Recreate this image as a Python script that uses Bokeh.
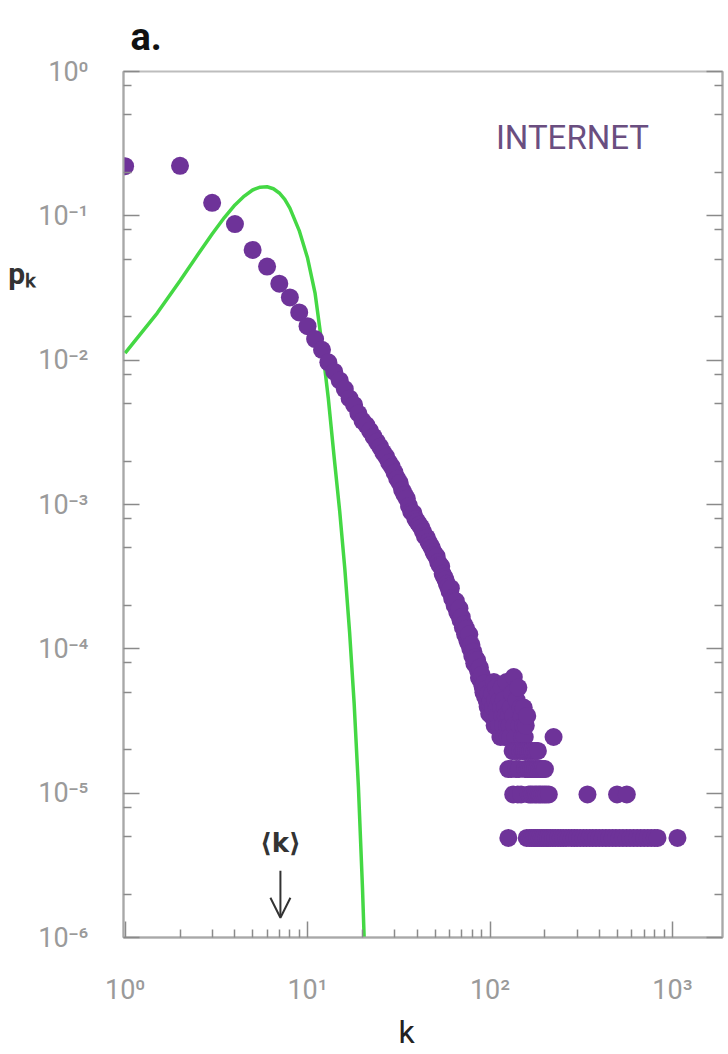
from bokeh.plotting import figure
from bokeh.models import (FixedTicker, CustomJSTickFormatter, LogAxis, Label,
                          Arrow, OpenHead, ColumnDataSource)
from bokeh.embed import file_html
from bokeh.resources import INLINE

# ---------------- data ----------------
band_k = list(range(1, 101))
band_p = [0.221, 0.222, 0.123, 0.0877, 0.058, 0.0445, 0.0339, 0.0272, 0.0214, 0.0172,
          0.0140, 0.0118, 0.00966, 0.00832, 0.00724, 0.00631, 0.00543, 0.00490, 0.00427, 0.00380,
          0.00355, 0.00324, 0.00295, 0.00272, 0.00251, 0.00229, 0.00214, 0.00195, 0.00182, 0.00166,
          0.00151, 0.00141, 0.00126, 0.00117, 0.00110, 9.77e-4, 8.91e-4, 8.71e-4, 7.94e-4, 7.59e-4,
          7.24e-4, 6.92e-4, 6.46e-4, 6.03e-4, 5.89e-4, 5.50e-4, 5.25e-4, 5.01e-4, 4.68e-4, 4.47e-4,
          4.37e-4, 3.98e-4, 3.80e-4, 3.72e-4, 3.31e-4, 3.16e-4, 3.02e-4, 2.82e-4, 2.69e-4, 2.51e-4,
          2.63e-4, 2.24e-4, 2.19e-4, 2.00e-4, 2.14e-4, 1.82e-4, 1.74e-4, 1.91e-4, 1.58e-4, 1.66e-4,
          1.41e-4, 1.48e-4, 1.26e-4, 1.38e-4, 1.15e-4, 1.10e-4, 1.26e-4, 1.00e-4, 1.07e-4, 8.91e-5,
          9.55e-5, 7.94e-5, 8.71e-5, 7.59e-5, 8.32e-5, 7.08e-5, 6.31e-5, 7.41e-5, 6.03e-5, 6.61e-5,
          5.50e-5, 5.01e-5, 5.75e-5, 4.68e-5, 5.25e-5, 4.37e-5, 3.98e-5, 4.90e-5, 3.55e-5, 4.17e-5]

# scattered tail just above 100 (5..13 nodes per degree)
blob_k = [101, 102, 103, 104, 105, 106, 107, 108, 109, 110,
          111, 112, 113, 114, 115, 116, 117, 118, 119, 120,
          121, 122, 123, 124, 125, 127, 128, 129, 130, 132,
          134, 135, 136, 138, 140, 143, 145, 147, 149, 150,
          152, 153, 155, 157, 160, 223]
blob_p = [4.41e-5, 3.43e-5, 4.90e-5, 3.92e-5, 5.88e-5, 2.94e-5, 4.41e-5, 5.39e-5, 3.92e-5, 3.43e-5,
          4.90e-5, 2.94e-5, 4.41e-5, 2.45e-5, 3.92e-5, 5.39e-5, 3.43e-5, 2.94e-5, 4.41e-5, 2.45e-5,
          3.92e-5, 3.43e-5, 5.88e-5, 2.94e-5, 2.45e-5, 3.43e-5, 2.94e-5, 2.45e-5, 3.92e-5, 4.90e-5,
          3.43e-5, 6.37e-5, 2.94e-5, 2.45e-5, 4.41e-5, 5.39e-5, 2.94e-5, 3.92e-5, 3.43e-5, 2.45e-5,
          2.94e-5, 3.92e-5, 2.45e-5, 2.94e-5, 3.43e-5, 2.45e-5]

# horizontal rows of the far tail: degrees held by 4, 3, 2 and 1 nodes
row_levels = [1.96e-5, 1.47e-5, 9.8e-6, 4.9e-6]
row4_k = [133, 137, 141, 146, 151, 154, 158, 162, 166, 170, 175, 179, 183]
row3_k = [126, 131, 139, 144, 156, 161, 164, 168, 172, 177, 181, 186, 190, 195, 200]
row2_k = [134, 142, 148, 163, 167, 171, 176, 180, 185, 189, 194, 199, 204, 210, 342, 497, 562]
row1_k = [126, 159, 165, 169, 174, 178, 182, 187, 192, 197, 203, 208, 214, 221, 228, 236,
          244, 252, 261, 270, 280, 290, 300, 312, 325, 338, 352, 366, 381, 397, 414, 432,
          450, 470, 490, 512, 535, 560, 585, 612, 640, 670, 700, 732, 765, 800, 828, 1065]

# Poisson-like reference curve (green)
green_k = [1, 1.5, 2, 2.5, 3, 3.5, 4, 4.5, 5, 5.5, 6, 6.5, 7, 7.5, 8, 9, 10, 11,
           12, 13, 14, 15, 16, 17, 18, 19, 20, 21]
green_p = [0.0112, 0.0212, 0.0355, 0.0537, 0.0749, 0.0973, 0.119, 0.137, 0.151, 0.158,
           0.159, 0.154, 0.144, 0.130, 0.113, 0.079, 0.051, 0.029, 0.0128, 0.0054,
           0.0021, 9.0e-4, 3.6e-4, 1.3e-4, 4.2e-5, 1.1e-5, 2.2e-6, 3.5e-7]

x_ticks = [1, 10, 100, 1000]
x_labels = ["10⁰", "10¹", "10²", "10³"]
x_minor = [2, 3, 4, 5, 6, 7, 8, 9, 20, 30, 40, 50, 60, 70, 80, 90,
           200, 300, 400, 500, 600, 700, 800, 900]
y_ticks = [1e-6, 1e-5, 1e-4, 1e-3, 1e-2, 1e-1, 1]
y_labels = ["10⁻⁶", "10⁻⁵", "10⁻⁴", "10⁻³", "10⁻²", "10⁻¹", "10⁰"]
y_minor = [2e-6, 5e-6, 8e-6, 2e-5, 5e-5, 8e-5, 2e-4, 5e-4, 8e-4,
           2e-3, 5e-3, 8e-3, 2e-2, 5e-2, 8e-2, 2e-1, 5e-1, 8e-1]

mean_k_pos = 7.1          # where the <k> arrow is drawn
series_name = "INTERNET"
y_title = "pₖ"
x_title = "k"

# ---------------- assemble point table ----------------
all_k = band_k + blob_k
all_p = band_p + blob_p
for lvl, ks in zip(row_levels, [row4_k, row3_k, row2_k, row1_k]):
    all_k += ks
    all_p += [lvl] * len(ks)

# ---------------- style ----------------
PURPLE = "#6e3399"
GREEN = "#44d844"
GRAY_TXT = "#9a9a9a"
FONT = "Roboto"

p = figure(width=726, height=1053, x_axis_type="log", y_axis_type="log",
           x_range=(0.98, 1880), y_range=(1e-6, 1),
           output_backend="svg", toolbar_location=None,
           min_border_left=123, min_border_right=4, min_border_top=71,
           min_border_bottom=111, title="a.")
p.background_fill_color = "white"
p.border_fill_color = "white"
p.outline_line_color = "#bdbdbd"
p.outline_line_width = 2
p.grid.visible = False

p.title.text_font = FONT
p.title.text_font_style = "bold"
p.title.text_font_size = "38px"
p.title.text_color = "#111111"
p.title.align = "left"
p.title.vertical_align = "top"
p.title.offset = 7
p.title.standoff = 22

fmt_code = """
const lt = Math.log10(tick);
for (let i = 0; i < vals.length; i++) {
  if (Math.abs(Math.log10(vals[i]) - lt) < 1e-6) return labs[i];
}
return "";
"""

xa = p.xaxis[0]
xa.ticker = FixedTicker(ticks=x_ticks, minor_ticks=x_minor)
xa.formatter = CustomJSTickFormatter(args=dict(vals=x_ticks, labs=x_labels), code=fmt_code)
ya = p.yaxis[0]
ya.ticker = FixedTicker(ticks=y_ticks, minor_ticks=y_minor)
ya.formatter = CustomJSTickFormatter(args=dict(vals=y_ticks, labs=y_labels), code=fmt_code)

ra = LogAxis(ticker=FixedTicker(ticks=y_ticks, minor_ticks=y_minor),
             major_label_text_font_size="1px", major_label_text_alpha=0,
             major_label_standoff=0)
p.add_layout(ra, "right")

for ax in (xa, ya, ra):
    ax.axis_line_color = "#a8a8a8"
    ax.axis_line_width = 2
    ax.major_tick_line_color = "#8a8a8a"
    ax.minor_tick_line_color = "#8a8a8a"
    ax.major_tick_line_width = 1.5
    ax.minor_tick_line_width = 1.5
    ax.major_tick_out = 0
    ax.minor_tick_out = 0
    ax.major_tick_in = 16
    ax.minor_tick_in = 8
for ax in (xa, ya):
    ax.major_label_text_font = FONT
    ax.major_label_text_font_size = "27px"
    ax.major_label_text_color = GRAY_TXT
xa.major_label_standoff = 36
ya.major_label_standoff = 35

# x title, nudged a little left of the frame centre with two trailing en spaces
xa.axis_label = x_title + "\u2002\u2002"
xa.axis_label_text_font = FONT
xa.axis_label_text_font_style = "normal"
xa.axis_label_text_font_size = "32px"
xa.axis_label_text_color = "#222222"
xa.axis_label_standoff = 4

# y title: horizontal, lifted to the upper part of the axis by blank lines below it
ya.axis_label = y_title + "\n " * 11
ya.axis_label_orientation = "horizontal"
ya.axis_label_text_font = FONT
ya.axis_label_text_font_style = "bold"
ya.axis_label_text_font_size = "30px"
ya.axis_label_text_color = "#333333"
ya.axis_label_standoff = 0

p.line(green_k, green_p, line_width=3.5, line_color=GREEN)
src = ColumnDataSource(dict(k=all_k, pk=all_p))
p.scatter("k", "pk", source=src, size=18, fill_color=PURPLE, line_color=None)

# ---------------- texts ----------------
p.add_layout(Label(x=283, y=0.35, text=series_name, text_font=FONT,
                   text_font_size="33px", text_color="#6a4e80",
                   text_align="center", text_baseline="middle"))
p.add_layout(Label(x=mean_k_pos, y=4.5e-6, text="⟨k⟩", text_font="DejaVu Sans",
                   text_font_style="bold",
                   text_font_size="26px", text_color="#333333",
                   text_align="center", text_baseline="middle"))
p.add_layout(Arrow(x_start=mean_k_pos, y_start=2.9e-6, x_end=mean_k_pos, y_end=1.37e-6,
                   line_color="#333333", line_width=2,
                   end=OpenHead(size=20, line_color="#333333", line_width=2)))

open("out.html", "w").write(file_html(p, INLINE))
